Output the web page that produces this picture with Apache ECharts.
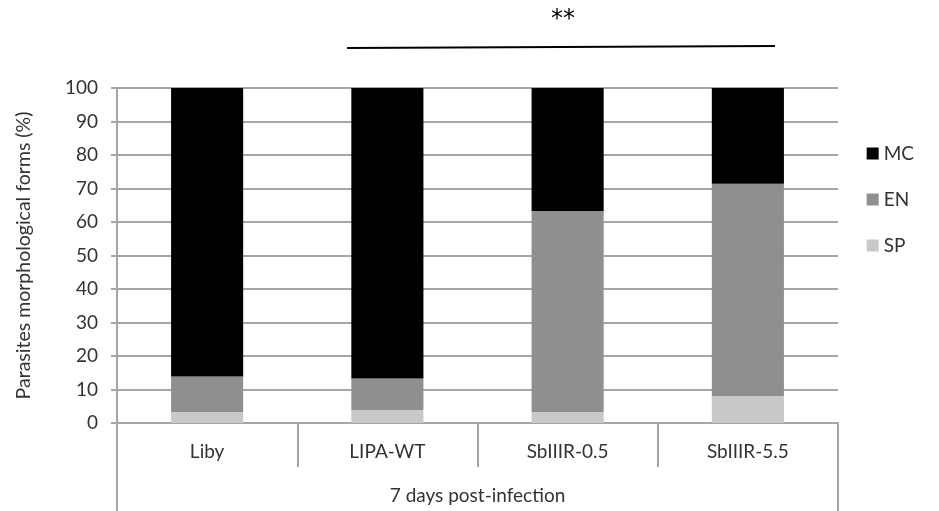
<!DOCTYPE html>
<html>
<head>
<meta charset="utf-8">
<script src="https://cdn.jsdelivr.net/npm/echarts@6/dist/echarts.min.js"></script>
<style>html,body{margin:0;padding:0;background:#fff;}#c{width:939px;height:511px;}</style>
</head>
<body>
<div id="c"></div>
<script>
const categories = ['Liby', 'LIPA-WT', 'SbIIIR-0.5', 'SbIIIR-5.5'];
const groupLabel = ['7 days post-infection'];
const spValues = [3.3, 3.9, 3.3, 8.0];
const enValues = [10.6, 9.4, 60.0, 63.4];
const mcValues = [86.1, 86.7, 36.7, 28.6];
const yTicks = [0, 10, 20, 30, 40, 50, 60, 70, 80, 90, 100];

const font = 'Lato';
const txt = '#333333';
const grid = '#a6a6a6';

const chart = echarts.init(document.getElementById('c'), null, {renderer: 'canvas'});
chart.setOption({
  animation: false,
  backgroundColor: '#fff',
  textStyle: {fontFamily: font},
  grid: {left: 117, right: 101, top: 88, bottom: 88, containLabel: false},
  legend: {
    orient: 'vertical', right: 20, top: 139,
    data: ['MC', 'EN', 'SP'],
    itemWidth: 12, itemHeight: 12, itemGap: 27, icon: 'rect',
    textStyle: {fontFamily: font, fontSize: 19, color: txt}
  },
  xAxis: [{
    type: 'category', data: categories, position: 'bottom',
    axisLine: {show: true, lineStyle: {color: grid, width: 2}},
    axisTick: {show: true, interval: 0, length: 44, lineStyle: {color: grid, width: 2}},
    axisLabel: {fontFamily: font, fontSize: 19, color: txt, margin: 19, interval: 0}
  }, {
    type: 'category', data: groupLabel, position: 'bottom', offset: 44,
    axisLine: {show: false},
    axisTick: {show: true, interval: 0, length: 44, lineStyle: {color: grid, width: 2}},
    axisLabel: {fontFamily: font, fontSize: 19, color: txt, margin: 19}
  }],
  yAxis: {
    type: 'value', min: yTicks[0], max: yTicks[yTicks.length - 1], interval: 10,
    name: 'Parasites morphological forms (%)', nameLocation: 'middle', nameGap: 83,
    nameTextStyle: {fontFamily: font, fontSize: 19.5, color: txt},
    axisLine: {show: true, lineStyle: {color: grid, width: 2}},
    axisTick: {show: true, length: 6, lineStyle: {color: grid, width: 2}},
    axisLabel: {fontFamily: font, fontSize: 19, color: txt, margin: 19},
    splitLine: {show: true, lineStyle: {color: grid, width: 2}}
  },
  series: [
    {name: 'SP', type: 'bar', stack: 't', data: spValues, barWidth: '40%', itemStyle: {color: '#c8c8c8'}},
    {name: 'EN', type: 'bar', stack: 't', data: enValues, barWidth: '40%', itemStyle: {color: '#8f8f8f'}},
    {name: 'MC', type: 'bar', stack: 't', data: mcValues, barWidth: '40%', itemStyle: {color: '#000000'}}
  ],
  graphic: [
    {type: 'line', shape: {x1: 347, y1: 48, x2: 775, y2: 46}, style: {stroke: '#000', lineWidth: 2}},
    {type: 'text', x: 563, y: 20, style: {text: '**', font: '24px DejaVu Sans', fill: '#000', textAlign: 'center', textVerticalAlign: 'middle'}}
  ]
});
</script>
</body>
</html>
